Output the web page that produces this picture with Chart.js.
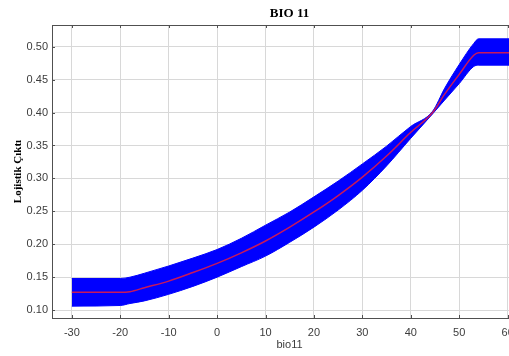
<!DOCTYPE html>
<html>
<head>
<meta charset="utf-8">
<script src="https://cdn.jsdelivr.net/npm/chart.js@4/dist/chart.umd.min.js"></script>
<style>
  html, body { margin: 0; padding: 0; background: #fff; overflow: hidden; }
  #wrap { width: 527px; height: 356px; }
</style>
</head>
<body>
<div id="wrap"><canvas id="chart_bio11"></canvas></div>
<script>
// response curve for bio11: mean and its spread band
var bio11 = [-30, -20, -18, -15, -10, -5, 0, 5, 10, 15, 20, 25, 30, 35, 40, 44.5, 47, 50, 53, 54, 64];
var meanOut = [0.127, 0.127, 0.128, 0.134, 0.144, 0.157, 0.171, 0.187, 0.205, 0.226, 0.249, 0.274, 0.302, 0.334, 0.370, 0.400, 0.428, 0.458, 0.487, 0.491, 0.491];
var upperOut = [0.148, 0.148, 0.150, 0.156, 0.167, 0.179, 0.192, 0.209, 0.229, 0.249, 0.272, 0.296, 0.322, 0.349, 0.379, 0.402, 0.437, 0.473, 0.505, 0.512, 0.512];
var lowerOut = [0.106, 0.107, 0.110, 0.114, 0.124, 0.136, 0.150, 0.166, 0.182, 0.203, 0.226, 0.252, 0.282, 0.319, 0.361, 0.398, 0.419, 0.444, 0.470, 0.472, 0.472];
var yTicks = [0.10, 0.15, 0.20, 0.25, 0.30, 0.35, 0.40, 0.45, 0.50];

function toPoints(ys) {
    return bio11.map(function(x, i) { return { x: x, y: ys[i] }; });
}

var sansFont = '"Liberation Sans", Arial, sans-serif';
var serifFont = '"Liberation Serif", "Times New Roman", serif';

// frame on top plus small inward tick marks, like the plotting tool draws
var framePlugin = {
    id: 'frame',
    afterDraw: function(chart) {
        var ctx = chart.ctx;
        var area = chart.chartArea;
        var xs = chart.scales.x;
        var ys = chart.scales.y;
        ctx.save();
        ctx.strokeStyle = '#505050';
        ctx.lineWidth = 1;
        ctx.beginPath();
        ctx.moveTo(area.left, area.top + 0.5);
        ctx.lineTo(area.right, area.top + 0.5);
        xs.ticks.forEach(function(t) {
            var px = Math.round(xs.getPixelForValue(t.value)) + 0.5;
            ctx.moveTo(px, area.bottom);
            ctx.lineTo(px, area.bottom - 3);
            ctx.moveTo(px, area.top);
            ctx.lineTo(px, area.top + 3);
        });
        ys.ticks.forEach(function(t) {
            var py = Math.round(ys.getPixelForValue(t.value)) + 0.5;
            ctx.moveTo(area.left, py);
            ctx.lineTo(area.left + 3, py);
        });
        ctx.stroke();
        ctx.restore();
    }
};

var objData = {
    datasets: [
        {
            label: 'mean',
            data: toPoints(meanOut),
            borderColor: '#c8185a',
            borderWidth: 1.5,
            pointRadius: 0,
            fill: false,
            cubicInterpolationMode: 'monotone'
        },
        {
            label: 'upper',
            data: toPoints(upperOut),
            borderColor: '#0000ff',
            backgroundColor: '#0000ff',
            borderWidth: 1,
            pointRadius: 0,
            fill: '+1',
            cubicInterpolationMode: 'monotone'
        },
        {
            label: 'lower',
            data: toPoints(lowerOut),
            borderColor: '#0000ff',
            borderWidth: 1,
            pointRadius: 0,
            fill: false,
            cubicInterpolationMode: 'monotone'
        }
    ]
};

var objOptions = {
    responsive: true,
    maintainAspectRatio: false,
    animation: false,
    layout: { padding: 0 },
    plugins: {
        legend: { display: false },
        tooltip: { enabled: false },
        title: {
            display: true,
            text: 'BIO 11',
            fullSize: false,
            color: '#000',
            font: { family: serifFont, size: 13, weight: 'bold' },
            padding: { top: 5.7, bottom: 3.7 }
        }
    },
    scales: {
        x: {
            type: 'linear',
            min: -34.1,
            max: 64,
            grid: { color: '#d8d8d8', drawTicks: false },
            border: { display: true, color: '#505050' },
            ticks: {
                stepSize: 10,
                includeBounds: false,
                padding: 8,
                color: '#3c3c3c',
                font: { family: sansFont, size: 11 }
            },
            title: {
                display: true,
                text: 'bio11',
                color: '#3c3c3c',
                font: { family: sansFont, size: 11 },
                padding: { top: 0, bottom: 4.4 }
            },
            afterFit: function(scale) { scale.height = 38; }
        },
        y: {
            type: 'linear',
            min: 0.088,
            max: 0.533,
            grid: { color: '#d8d8d8', drawTicks: false },
            border: { display: true, color: '#505050' },
            afterBuildTicks: function(scale) {
                scale.ticks = yTicks.map(function(v) { return { value: v }; });
            },
            ticks: {
                padding: 4,
                color: '#3c3c3c',
                font: { family: sansFont, size: 11 },
                callback: function(v) { return Number(v).toFixed(2); }
            },
            title: {
                display: true,
                text: 'Lojistik Çıktı',
                color: '#000',
                font: { family: serifFont, size: 11, weight: 'bold' },
                padding: { top: 11.7, bottom: 0 }
            },
            afterFit: function(scale) { scale.width = 52; }
        }
    }
};

var elChart = document.getElementById('chart_bio11');
var objChart = new Chart(elChart, {
    type: 'line',
    data: objData,
    options: objOptions,
    plugins: [framePlugin]
});
</script>
</body>
</html>
